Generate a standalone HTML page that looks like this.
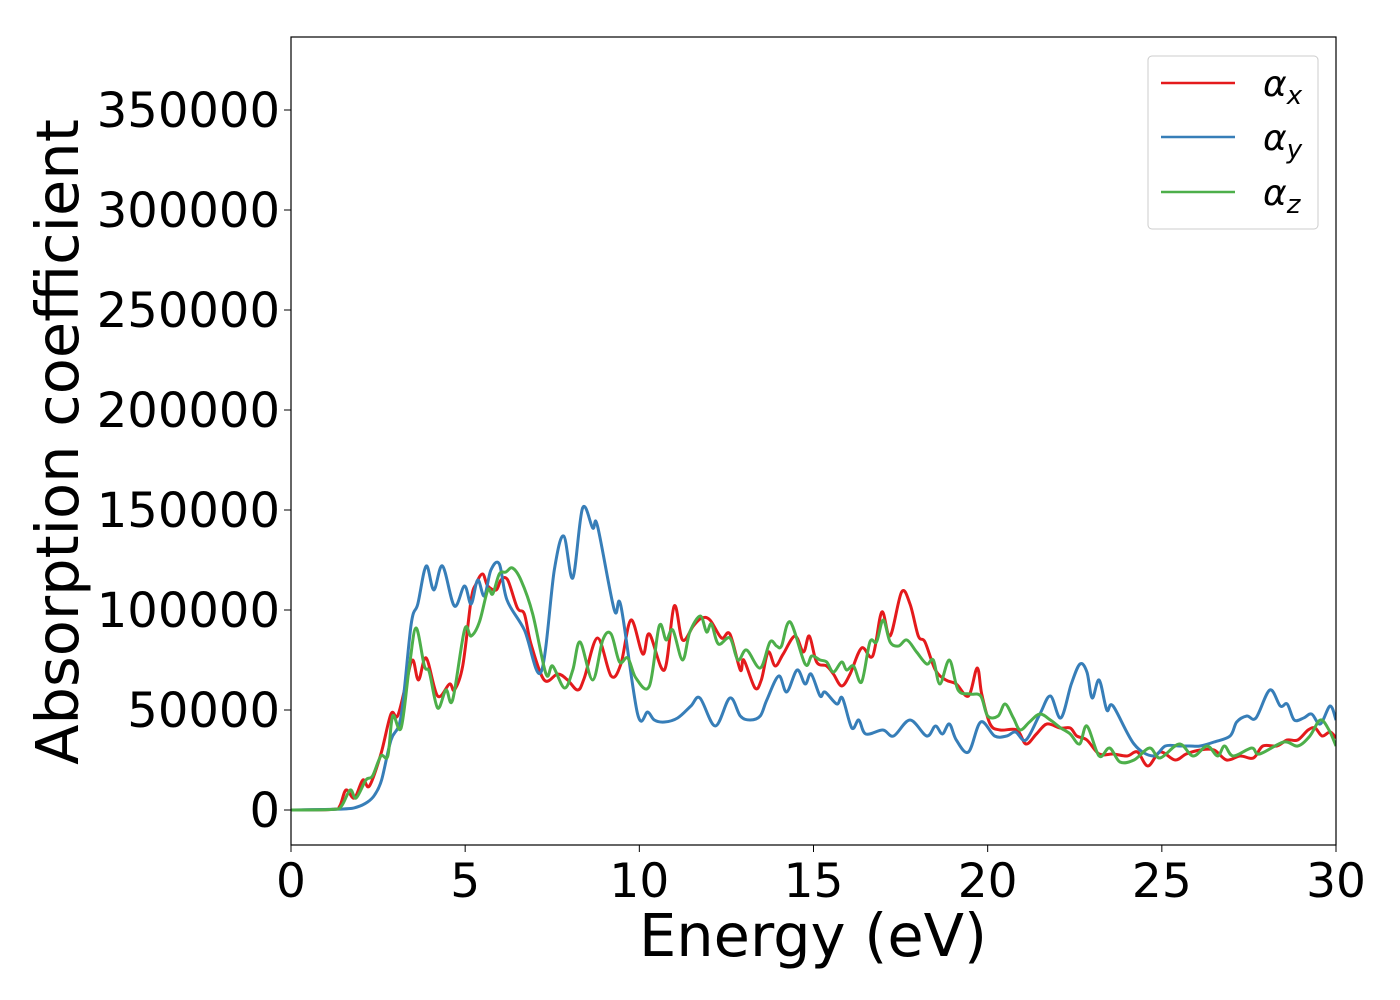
<!DOCTYPE html>
<html><head><meta charset="utf-8">
<style>
html,body{margin:0;padding:0;background:#fff;}
svg{display:block;font-family:"DejaVu Sans","Liberation Sans",sans-serif;}
</style></head>
<body>
<svg id="chart" width="1400" height="1000" viewBox="0 0 1400 1000">
<rect x="0" y="0" width="1400" height="1000" fill="#fff"/>
<g id="plot"></g>
<g id="axes"></g>
<text x="813" y="956" font-size="59" text-anchor="middle">Energy (eV)</text>
<text transform="translate(78,442) rotate(-90)" font-size="59" text-anchor="middle">Absorption coefficient</text>
<g>
<rect x="1148" y="56" width="170" height="173" rx="4" fill="#fff" stroke="#ccc" stroke-width="1"/>
<line x1="1161" y1="83" x2="1235" y2="83" stroke="#e41a1c" stroke-width="2.5"/>
<text x="1263" y="96" font-size="36" font-style="italic">α<tspan font-size="26" dy="8">x</tspan></text>
<line x1="1161" y1="137" x2="1235" y2="137" stroke="#377eb8" stroke-width="2.5"/>
<text x="1263" y="150" font-size="36" font-style="italic">α<tspan font-size="26" dy="8">y</tspan></text>
<line x1="1161" y1="192" x2="1235" y2="192" stroke="#4daf4a" stroke-width="2.5"/>
<text x="1263" y="205" font-size="36" font-style="italic">α<tspan font-size="26" dy="8">z</tspan></text>
</g>
</svg>
<script>
const xTicks = [0,5,10,15,20,25,30];
const yTicks = [0,50000,100000,150000,200000,250000,300000,350000];
const redE = [0,1.2,1.4,1.58,1.82,2.06,2.25,2.58,2.87,3.06,3.3,3.49,3.66,3.88,4.21,4.55,4.69,4.93,5.17,5.31,5.5,5.65,5.89,6.03,6.22,6.5,6.7,6.89,7.27,7.66,7.94,8.23,8.42,8.8,9.19,9.47,9.76,10.1,10.29,10.72,11.0,11.24,11.55,11.79,12.03,12.36,12.6,12.9,13.0,13.32,13.5,13.7,13.9,14.13,14.47,14.71,14.88,15.09,15.38,15.57,15.81,16.05,16.38,16.7,16.96,17.2,17.53,17.77,18.01,18.2,18.5,18.8,19.1,19.45,19.7,19.83,20.07,20.36,20.84,21.1,21.4,21.7,22.08,22.37,22.56,22.85,23.2,23.6,24.0,24.3,24.6,24.95,25.38,25.7,26.1,26.5,26.86,27.25,27.63,27.9,28.3,28.6,28.9,29.2,29.4,29.6,29.83,30];
const redV = [0,300,2000,10000,6000,15000,12000,28000,48000,47000,63000,75000,65000,76000,57000,63000,60000,72000,105000,113000,118000,112000,110000,115000,115000,101000,98000,83000,65000,68000,65000,60000,66000,86000,67000,73000,95000,78000,88000,70000,102000,85000,92000,96000,95000,86000,88000,70000,75000,61000,65000,79000,72000,78000,87000,79000,87000,74000,72000,68000,62000,68000,81000,77000,99000,87000,109000,103000,87000,84000,70000,65000,63000,57000,71000,58000,43000,40000,40000,33000,38000,43000,41000,41000,37000,35000,28000,28000,27000,29000,22000,29000,25000,28000,30000,30000,25000,27000,26000,32000,32000,35000,35000,40000,41000,37000,39000,36000];
const blueE = [0,1.5,1.9,2.2,2.4,2.6,2.87,3.16,3.45,3.64,3.88,4.1,4.35,4.69,4.98,5.17,5.36,5.55,5.74,5.98,6.2,6.7,7.18,7.56,7.83,8.09,8.37,8.66,8.8,9.28,9.47,9.95,10.24,10.43,10.72,11.1,11.48,11.74,12.18,12.6,12.9,13.18,13.47,13.66,14.0,14.23,14.53,14.76,14.93,15.19,15.33,15.67,15.83,16.1,16.3,16.5,16.99,17.3,17.77,18.25,18.5,18.7,18.9,19.1,19.45,19.8,20.2,20.55,20.8,21.1,21.5,21.8,22.1,22.4,22.65,22.85,23.0,23.2,23.42,23.6,24.2,24.75,25.1,25.5,25.8,26.1,26.5,26.96,27.15,27.44,27.7,28.1,28.4,28.6,28.8,29.07,29.3,29.55,29.83,30];
const blueV = [0,500,1500,4000,7500,15000,35000,47000,93000,103000,122000,110000,122000,102000,112000,103000,115000,107000,120000,123000,105000,90000,69000,120000,137000,116000,151000,141000,142000,100000,102000,48000,49000,45000,44000,46000,52000,56000,42000,56000,47000,45000,47000,55000,67000,59000,70000,63000,68000,57000,59000,53000,56000,41000,45000,38000,40000,37000,45000,37000,42000,38000,43000,35000,29000,44000,37000,37000,39000,35000,48000,57000,46000,63000,73000,69000,56000,65000,50000,52000,33000,27000,32000,32000,32000,32000,34000,37000,44000,47000,46000,60000,52000,53000,45000,46000,48000,43000,52000,45000];
const greenE = [0,1.2,1.45,1.7,1.87,2.15,2.34,2.58,2.78,2.92,3.16,3.4,3.59,3.83,3.97,4.21,4.45,4.64,4.98,5.17,5.41,5.65,5.79,5.98,6.17,6.36,6.6,6.94,7.32,7.51,7.85,8.09,8.3,8.66,8.95,9.19,9.43,9.67,9.9,10.29,10.57,10.77,10.96,11.24,11.45,11.75,11.93,12.07,12.27,12.6,12.83,13.08,13.47,13.75,13.94,14.08,14.33,14.76,14.95,15.19,15.38,15.57,15.81,15.95,16.15,16.38,16.62,16.81,17.0,17.2,17.44,17.68,17.96,18.25,18.44,18.63,18.9,19.15,19.5,19.8,20.0,20.3,20.5,20.74,20.93,21.2,21.5,21.8,22.1,22.37,22.64,22.85,23.2,23.5,23.8,24.2,24.65,24.95,25.5,25.9,26.3,26.6,26.8,27.05,27.58,27.8,28.5,28.9,29.25,29.55,29.8,30];
const greenV = [0,300,2000,10000,6000,15000,17000,27000,27000,47000,41000,72000,91000,72000,69000,51000,60000,55000,90000,87000,94000,110000,108000,118000,119000,121000,115000,98000,68000,72000,61000,70000,84000,65000,85000,88000,74000,76000,66000,62000,92000,85000,90000,75000,89000,97000,89000,93000,83000,86000,75000,80000,71000,84000,82000,82000,94000,73000,77000,75000,74000,69000,74000,70000,72000,64000,84000,84000,95000,84000,82000,85000,79000,73000,75000,63000,75000,60000,58000,57000,47000,47000,53000,46000,40000,44000,48000,45000,41000,38000,33000,42000,27000,31000,24000,25000,31000,26000,33000,27000,32000,27000,32000,27000,31000,28000,34000,32000,37000,45000,40000,32000];

const X0=291,X1=1336,Y0=37,Y1=845;
const xMin=0,xMax=30,yMin=-17500,yMax=386500;
const sx=v=>X0+(v-xMin)/(xMax-xMin)*(X1-X0);
const sy=v=>Y1-(v-yMin)/(yMax-yMin)*(Y1-Y0);
const NS='http://www.w3.org/2000/svg';
const plot=document.getElementById('plot');
const axes=document.getElementById('axes');

function pathFrom(E,V){
  const p=E.map((e,i)=>[sx(e),sy(V[i])]);
  let d='M'+p[0][0].toFixed(1)+','+p[0][1].toFixed(1);
  for(let i=0;i<p.length-1;i++){
    const a=p[i-1]||p[i],b=p[i],c=p[i+1],n=p[i+2]||c;
    const c1=[b[0]+(c[0]-a[0])/6,b[1]+(c[1]-a[1])/6];
    const c2=[c[0]-(n[0]-b[0])/6,c[1]-(n[1]-b[1])/6];
    d+='C'+c1[0].toFixed(1)+','+c1[1].toFixed(1)+' '+c2[0].toFixed(1)+','+c2[1].toFixed(1)+' '+c[0].toFixed(1)+','+c[1].toFixed(1);
  }
  return d;
}
const series=[['alpha-x-line',redE,redV,'#e41a1c'],['alpha-y-line',blueE,blueV,'#377eb8'],['alpha-z-line',greenE,greenV,'#4daf4a']];
const clip=document.createElementNS(NS,'clipPath');clip.id='cp';
const cr=document.createElementNS(NS,'rect');
cr.setAttribute('x',X0);cr.setAttribute('y',Y0);cr.setAttribute('width',X1-X0);cr.setAttribute('height',Y1-Y0);
clip.appendChild(cr);plot.appendChild(clip);
series.forEach(s=>{
  const el=document.createElementNS(NS,'path');
  el.setAttribute('d',pathFrom(s[1],s[2]));
  el.setAttribute('fill','none');el.setAttribute('stroke',s[3]);el.setAttribute('stroke-width','3');
  el.setAttribute('stroke-linejoin','round');
  el.setAttribute('clip-path','url(#cp)');
  
  
  plot.appendChild(el);
});
const frame=document.createElementNS(NS,'rect');
frame.setAttribute('x',X0);frame.setAttribute('y',Y0);frame.setAttribute('width',X1-X0);frame.setAttribute('height',Y1-Y0);
frame.setAttribute('fill','none');frame.setAttribute('stroke','#000');frame.setAttribute('stroke-width','1.2');


axes.appendChild(frame);
xTicks.forEach(t=>{
  const l=document.createElementNS(NS,'line');
  l.setAttribute('x1',sx(t));l.setAttribute('x2',sx(t));l.setAttribute('y1',Y1);l.setAttribute('y2',Y1+7);l.setAttribute('stroke','#000');
  
  
  axes.appendChild(l);
  const tx=document.createElementNS(NS,'text');
  tx.setAttribute('x',sx(t));tx.setAttribute('y',Y1+52);tx.setAttribute('font-size','47');tx.setAttribute('text-anchor','middle');
  tx.textContent=t;
  
  
  axes.appendChild(tx);
});
yTicks.forEach(t=>{
  const l=document.createElementNS(NS,'line');
  l.setAttribute('x1',X0-7);l.setAttribute('x2',X0);l.setAttribute('y1',sy(t));l.setAttribute('y2',sy(t));l.setAttribute('stroke','#000');
  
  
  axes.appendChild(l);
  const tx=document.createElementNS(NS,'text');
  tx.setAttribute('x',X0-11);tx.setAttribute('y',sy(t)+17);tx.setAttribute('font-size','48');tx.setAttribute('text-anchor','end');
  tx.textContent=t;
  
  
  axes.appendChild(tx);
});
</script>
</body></html>
